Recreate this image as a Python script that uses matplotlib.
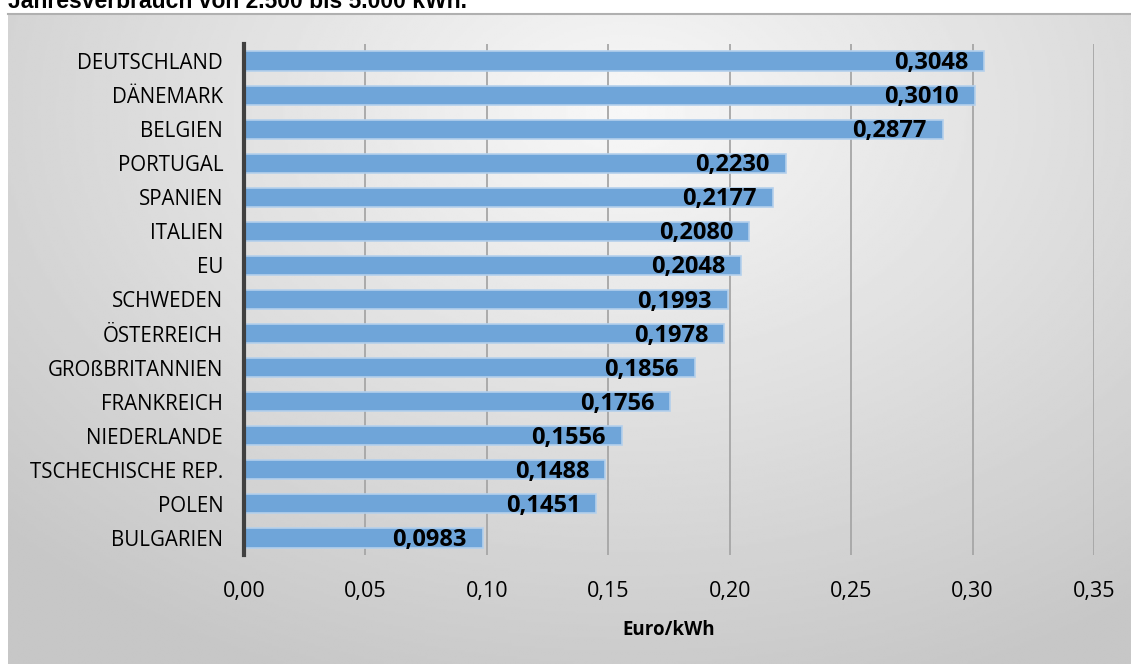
import numpy as np
import matplotlib.pyplot as plt

countries = ['DEUTSCHLAND', 'DÄNEMARK', 'BELGIEN', 'PORTUGAL', 'SPANIEN', 'ITALIEN', 'EU',
             'SCHWEDEN', 'ÖSTERREICH', 'GROßBRITANNIEN', 'FRANKREICH', 'NIEDERLANDE',
             'TSCHECHISCHE REP.', 'POLEN', 'BULGARIEN']
prices = [0.3048, 0.3010, 0.2877, 0.2230, 0.2177, 0.2080, 0.2048,
          0.1993, 0.1978, 0.1856, 0.1756, 0.1556, 0.1488, 0.1451, 0.0983]
ticks = [0.00, 0.05, 0.10, 0.15, 0.20, 0.25, 0.30, 0.35]

W, H = 1131, 664
fig = plt.figure(figsize=(W / 100, H / 100), dpi=100)

# gradient background of the chart frame
bg = fig.add_axes([8 / W, 0, 1 - 8 / W, (H - 14) / H], zorder=0)
yy, xx = np.mgrid[0:1:300j, 0:1:500j]
r = np.sqrt(((xx - 0.55) / 0.9) ** 2 + ((yy - 0.15) / 1.1) ** 2)
r = np.clip(r / 0.85, 0, 1)
img = 0.97 - (0.97 - 0.78) * r
bg.imshow(img, cmap='gray', vmin=0, vmax=1, aspect='auto', extent=[0, 1, 1, 0])
bg.set_axis_off()
fig.add_artist(plt.Line2D([8 / W, 1], [(H - 13.5) / H] * 2, color='#b0b0b0', lw=1.5))

fig.text(8 / W, (H - 8) / H, 'Jahresverbrauch von 2.500 bis 5.000 kWh.', fontsize=16.5,
         fontweight='bold', family='Liberation Sans', va='baseline', ha='left')

ax = fig.add_axes([244 / W, (H - 555) / H, (1094 - 244) / W, (555 - 44) / H], zorder=1)
ax.patch.set_alpha(0)
y = np.arange(len(countries))
ax.barh(y, prices, height=0.56, color='#6fa5d9', edgecolor='#b4d0ec', linewidth=1.2, zorder=3)
for yi, v in zip(y, prices):
    ax.text(v - 0.0066, yi + 0.06, f'{v:.4f}'.replace('.', ','), ha='right', va='center',
            fontsize=17, fontweight='bold', family='Open Sans', zorder=4)

ax.set_ylim(len(countries) - 0.5, -0.5)
ax.set_xlim(0, 0.35)
ax.set_xticks(ticks)
ax.set_xticklabels([f'{t:.2f}'.replace('.', ',') for t in ticks], fontsize=15.5, family='Open Sans')
ax.set_yticks(y)
ax.set_yticklabels(countries, fontsize=14.8, family='Open Sans')
ax.tick_params(length=0)
ax.tick_params(axis='y', pad=15)
ax.tick_params(axis='x', pad=19)
ax.xaxis.grid(True, color='#a6a6a6', lw=1.3, zorder=0)
for s in ['top', 'right', 'bottom']:
    ax.spines[s].set_visible(False)
ax.spines['left'].set_color('#404040')
ax.spines['left'].set_linewidth(3)
ax.spines['left'].set_zorder(5)
ax.set_xlabel('Euro/kWh', fontsize=13.5, fontweight='bold', family='Open Sans', labelpad=13)

fig.savefig('out.png', dpi=100)
